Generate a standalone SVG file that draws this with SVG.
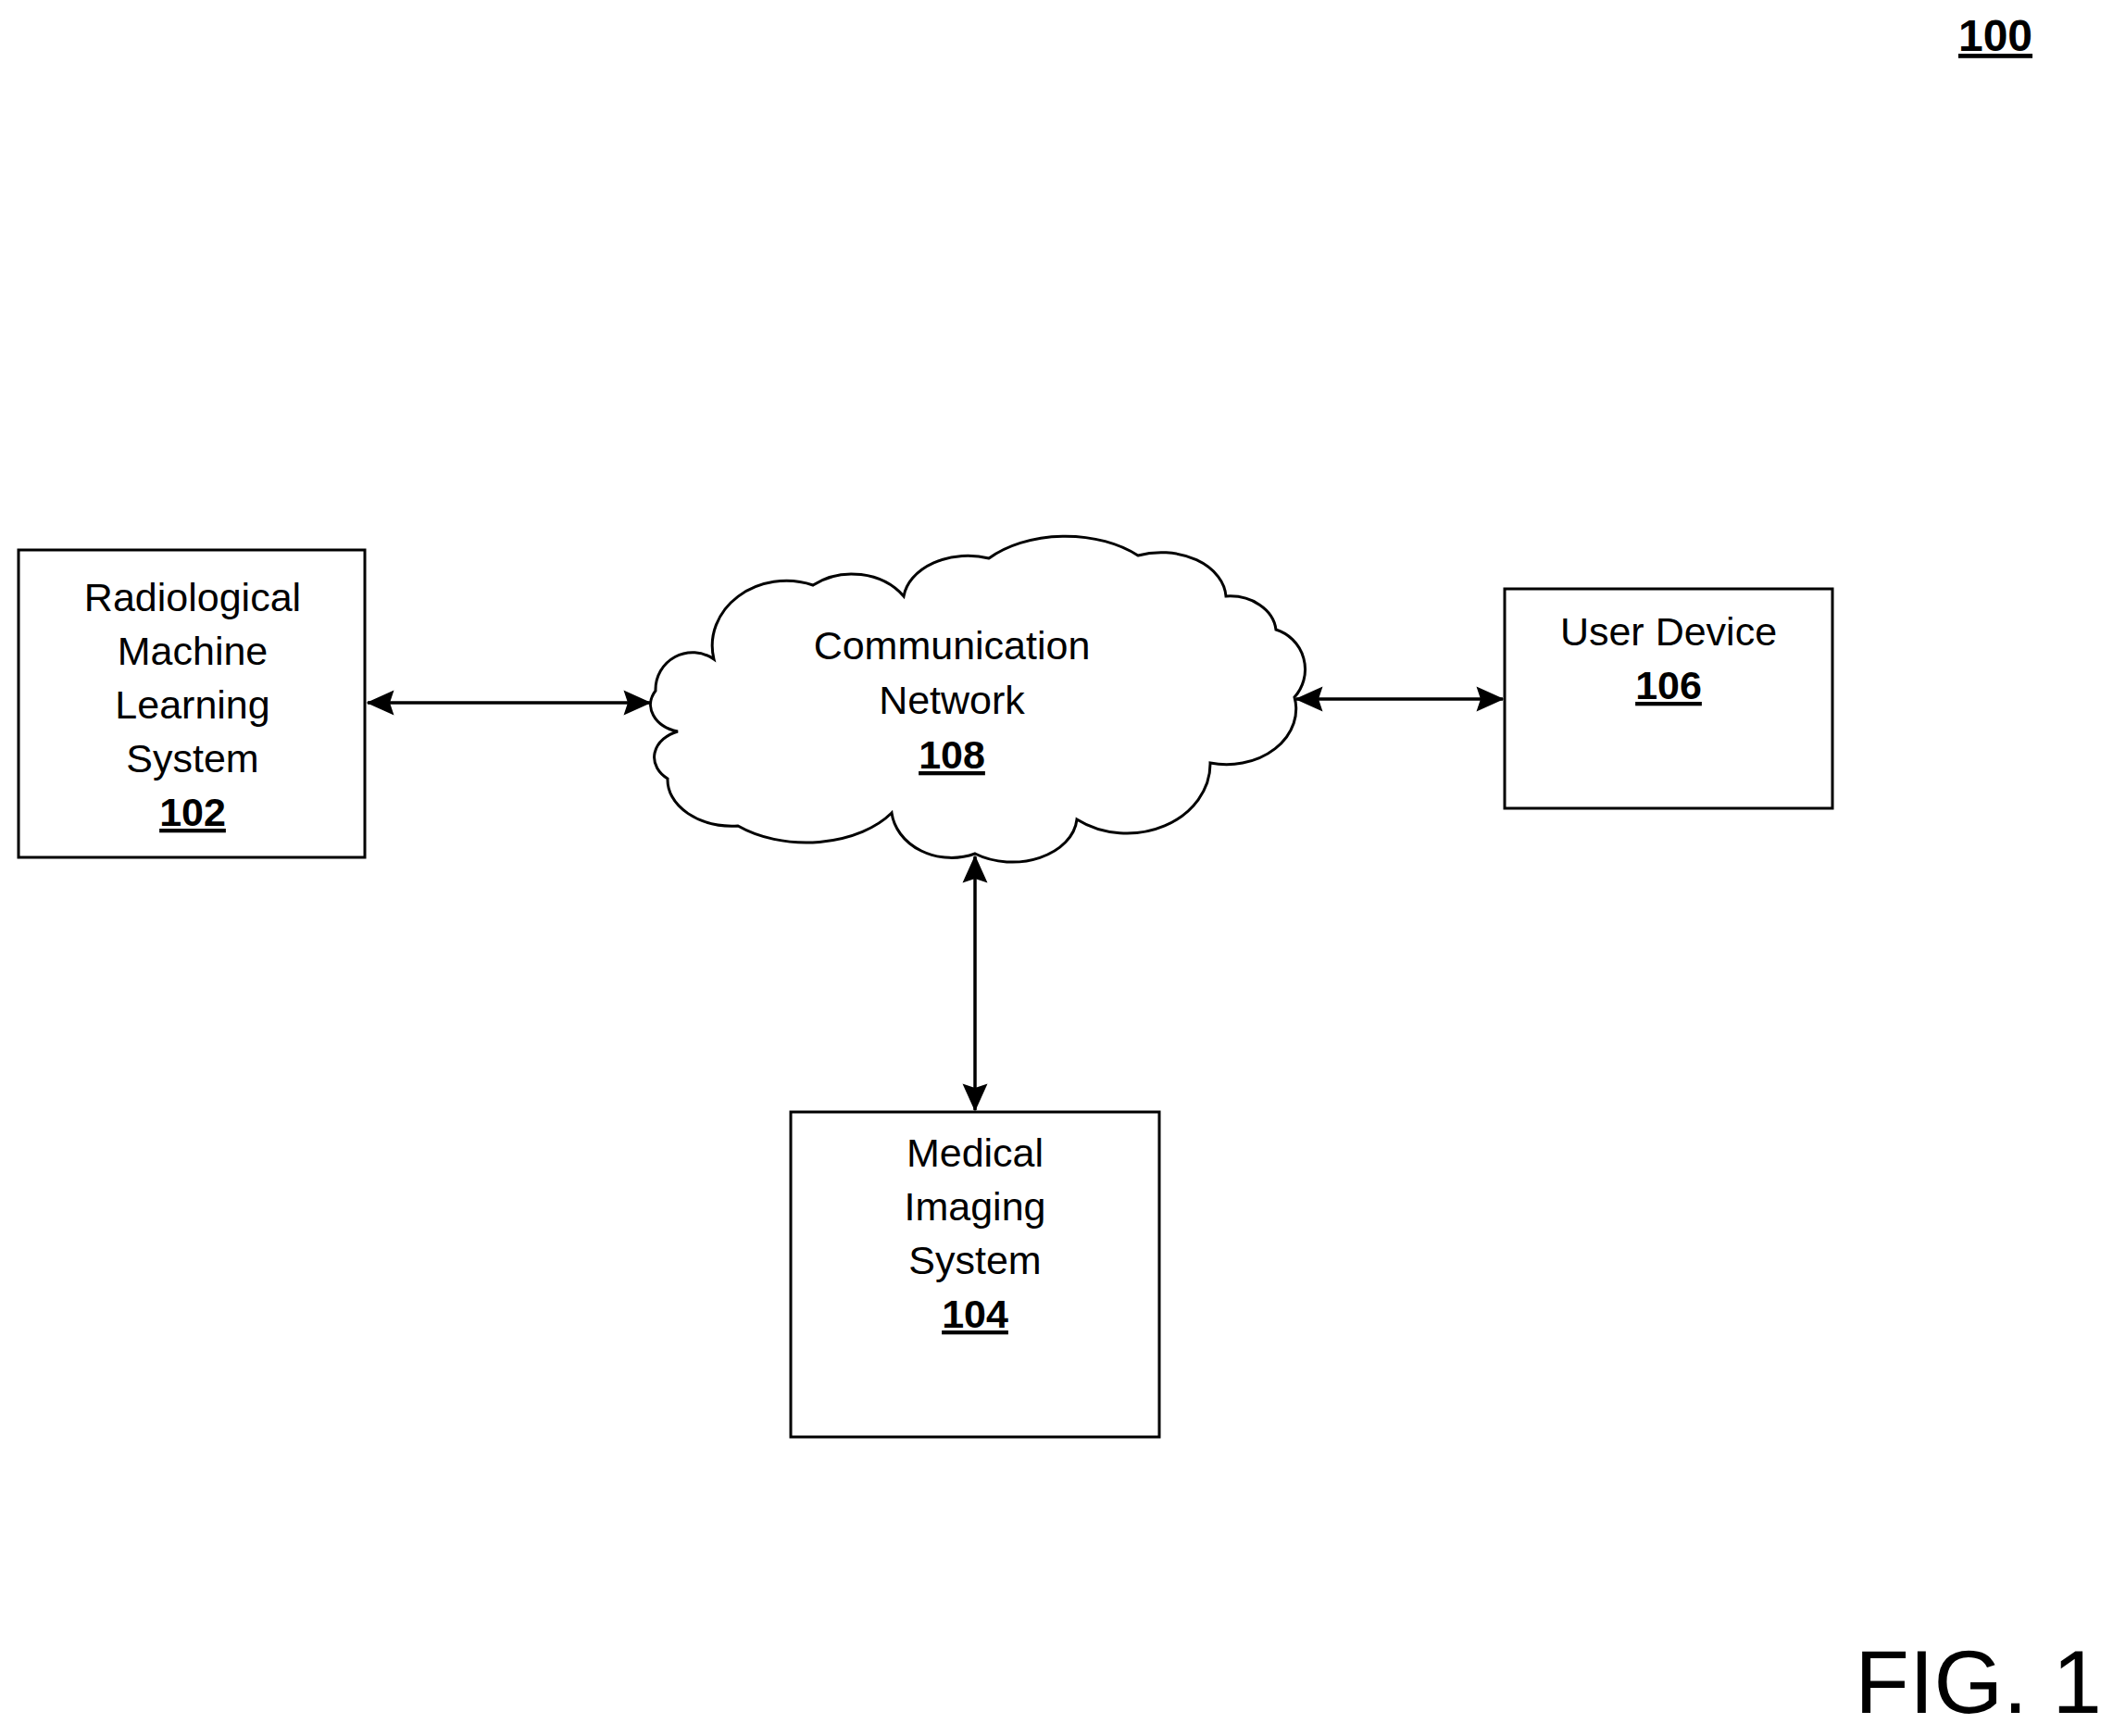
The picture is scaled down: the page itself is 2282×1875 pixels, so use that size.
<svg xmlns="http://www.w3.org/2000/svg" width="2282" height="1875" viewBox="0 0 2282 1875">
<style>
.b{fill:#fff;stroke:#000;stroke-width:3}
.t{font-family:"Liberation Sans",Arial,sans-serif;font-size:43px;text-anchor:middle;fill:#000}
.u{font-weight:bold;text-decoration:underline}
.c{stroke:#000;stroke-width:3.5;fill:none;marker-start:url(#a);marker-end:url(#a)}
</style>
<defs><marker id="a" viewBox="0 0 20 20" refX="19" refY="10" markerWidth="34" markerHeight="30" orient="auto-start-reverse" markerUnits="userSpaceOnUse"><path d="M0,1 L20,10 L0,19 L3,10 Z" fill="#000"/></marker></defs>
<rect width="2282" height="1875" fill="#fff"/>
<g id="connectors">
<line class="c" x1="397" y1="759" x2="702" y2="759"/>
<line class="c" x1="1400" y1="755" x2="1623" y2="755"/>
<line class="c" x1="1053" y1="925" x2="1053" y2="1199"/>
</g>
<g id="n108">
<path class="b" d="M708,746 A40,40 0 0 1 771,712 A80,70 0 0 1 878,632 A70,60 0 0 1 976,644 A70,50 0 0 1 1068,603 A110,70 0 0 1 1229,600 A70,50 0 0 1 1324,644 A50,40 0 0 1 1378,680 A45,45 0 0 1 1398,753 A75,60 0 0 1 1307,824 A90,75 0 0 1 1163,885 A70,50 0 0 1 1053,922 A65,55 0 0 1 963,878 A110,70 0 0 1 797,892 A70,50 0 0 1 721,841 A40,30 0 0 1 732,790 A40,30 0 0 1 708,746 Z"/>
<text class="t" x="1028" y="712">Communication</text>
<text class="t" x="1028" y="771">Network</text>
<text class="t u" x="1028" y="830">108</text>
</g>
<g id="n102">
<rect class="b" x="20" y="594" width="374" height="332"/>
<text class="t" x="208" y="660">Radiological</text>
<text class="t" x="208" y="718">Machine</text>
<text class="t" x="208" y="776">Learning</text>
<text class="t" x="208" y="834">System</text>
<text class="t u" x="208" y="892">102</text>
</g>
<g id="n106">
<rect class="b" x="1625" y="636" width="354" height="237"/>
<text class="t" x="1802" y="697">User Device</text>
<text class="t u" x="1802" y="755">106</text>
</g>
<g id="n104">
<rect class="b" x="854" y="1201" width="398" height="351"/>
<text class="t" x="1053" y="1260">Medical</text>
<text class="t" x="1053" y="1318">Imaging</text>
<text class="t" x="1053" y="1376">System</text>
<text class="t u" x="1053" y="1434">104</text>
</g>
<text class="t u" x="2155" y="55" style="font-size:48px">100</text>
<text x="2270" y="1850" text-anchor="end" style="font-family:'Liberation Sans',Arial,sans-serif;font-size:96px">FIG. 1</text>
</svg>
